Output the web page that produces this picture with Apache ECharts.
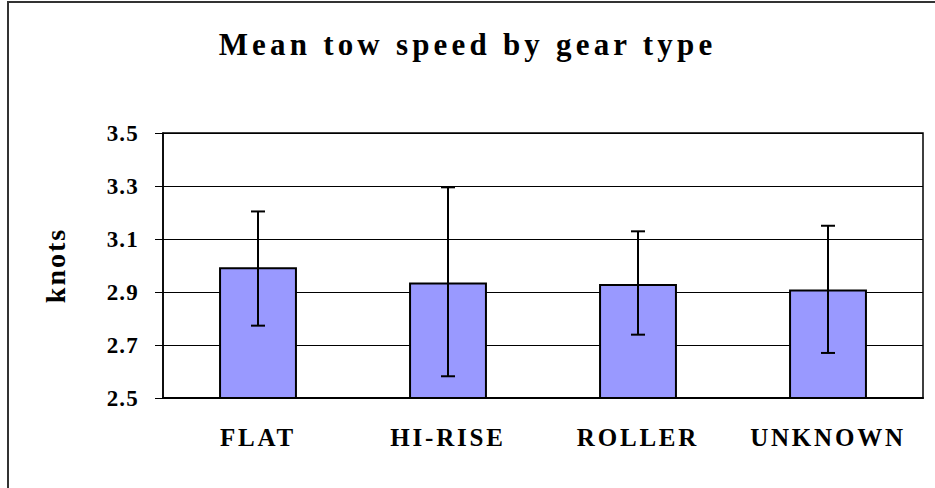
<!DOCTYPE html>
<html lang="en">
<head>
    <meta charset="UTF-8">
    <title>Mean tow speed by gear type</title>
    <script src="https://cdn.jsdelivr.net/npm/echarts@6/dist/echarts.min.js"></script>
    <style>
        body { margin: 0; padding: 0; background: #fff; }
        #chart { width: 935px; height: 488px; }
        /* spaced-out lettering like the original */
        #chart text[style*="31px"] { letter-spacing: 4.2px; }
        #chart text[style*="25px"] { letter-spacing: 2.8px; }
        #chart text[style*="28px"] { letter-spacing: 2px; }
        #chart text[style*="23px"] { letter-spacing: 1.2px; }
    </style>
</head>
<body>
<div id="chart"></div>
<script>
    // data
    const categories = ['FLAT', 'HI-RISE', 'ROLLER', 'UNKNOWN'];
    const means = [2.993, 2.936, 2.930, 2.909];
    const errHigh = [3.204, 3.295, 3.129, 3.150];
    const errLow = [2.773, 2.582, 2.739, 2.670];

    const font = 'Liberation Serif';
    const chart = echarts.init(document.getElementById('chart'), null, { renderer: 'svg' });

    chart.setOption({
        animation: false,
        title: {
            text: 'Mean tow speed by gear type',
            left: 'center',
            top: 24,
            textStyle: { fontFamily: font, fontWeight: 'bold', fontSize: 31, color: '#000' }
        },
        graphic: [{
            type: 'rect',
            shape: { x: 8, y: 2, width: 1000, height: 1000 },
            style: { fill: 'none', stroke: '#333', lineWidth: 2 },
            silent: true
        }],
        grid: {
            left: 163, top: 133, right: 12, bottom: 90,
            show: true, borderColor: '#000', borderWidth: 1.5
        },
        xAxis: {
            type: 'category',
            data: categories,
            axisLine: { lineStyle: { color: '#000', width: 2 } },
            axisTick: { length: 9, lineStyle: { color: '#000', width: 1 } },
            axisLabel: { margin: 27, fontFamily: font, fontWeight: 'bold', fontSize: 25, color: '#000' }
        },
        yAxis: {
            type: 'value',
            min: 2.5, max: 3.5, interval: 0.2,
            name: 'knots',
            nameLocation: 'middle',
            nameGap: 94,
            nameTextStyle: { fontFamily: font, fontWeight: 'bold', fontSize: 28, color: '#000' },
            axisLine: { show: true, lineStyle: { color: '#000', width: 1.5 } },
            axisTick: { show: true, length: 8, lineStyle: { color: '#000' } },
            axisLabel: {
                margin: 24, fontFamily: font, fontWeight: 'bold', fontSize: 23, color: '#000',
                formatter: v => v.toFixed(1)
            },
            splitLine: { lineStyle: { color: '#000', width: 1 } }
        },
        series: [{
            type: 'bar',
            data: means,
            barWidth: '41%',
            itemStyle: { color: '#9999FF', borderColor: '#000', borderWidth: 2 },
            z: 2
        }, {
            type: 'custom',
            data: categories.map((c, i) => [i, errLow[i], errHigh[i]]),
            renderItem: (params, api) => {
                const lo = api.coord([api.value(0), api.value(1)]);
                const hi = api.coord([api.value(0), api.value(2)]);
                const w = 7;
                const st = { stroke: '#000', lineWidth: 2 };
                return {
                    type: 'group',
                    children: [
                        { type: 'line', shape: { x1: hi[0], y1: hi[1], x2: lo[0], y2: lo[1] }, style: st },
                        { type: 'line', shape: { x1: hi[0] - w, y1: hi[1], x2: hi[0] + w, y2: hi[1] }, style: st },
                        { type: 'line', shape: { x1: lo[0] - w, y1: lo[1], x2: lo[0] + w, y2: lo[1] }, style: st }
                    ]
                };
            },
            z: 3
        }]
    });
</script>
</body>
</html>
